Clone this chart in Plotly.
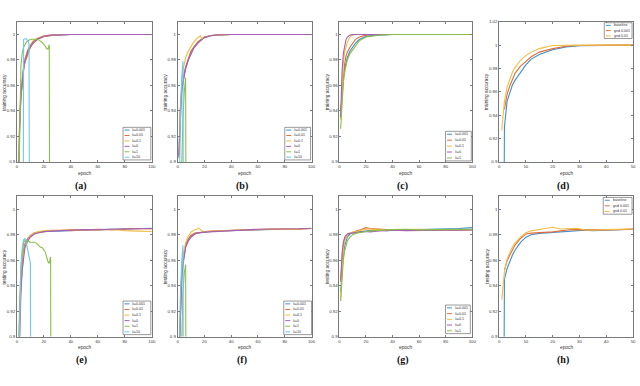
import plotly.graph_objects as go

# legend labels
lam_labels = ["λ=0.001", "λ=0.01", "λ=0.1", "λ=0", "λ=1", "λ=10"]
grid_labels = ["baseline", "grid 0.001", "grid 0.01"]

#colors (matlab default order, a bit lighter)
lam_colors = ["#3d8fd0", "#e0703a", "#f0bd45", "#a560b5", "#8cbf4a", "#6cc8ef"]
grid_colors = ["#3d8fd0", "#e0703a", "#f0bd45"]

########## (a) training ##########
ep_a = [1, 2, 3, 4, 5, 6, 8, 10, 12, 15, 20, 25, 30, 40, 60, 80, 100]
a_blue = [0.86, 0.928, 0.952, 0.965, 0.973, 0.979, 0.986, 0.990, 0.993, 0.996, 0.9985, 0.9993, 0.9997, 1.0, 1.0, 1.0, 1.0]
a_orange = [0.86, 0.925, 0.950, 0.964, 0.972, 0.978, 0.985, 0.990, 0.993, 0.996, 0.9985, 0.9993, 0.9997, 1.0, 1.0, 1.0, 1.0]
a_yellow = [0.87, 0.935, 0.956, 0.968, 0.975, 0.981, 0.988, 0.992, 0.995, 0.997, 0.999, 0.9995, 1.0, 1.0, 1.0, 1.0, 1.0]
a_purple = [0.86, 0.930, 0.953, 0.966, 0.974, 0.980, 0.987, 0.991, 0.994, 0.9965, 0.9988, 0.9995, 0.9998, 1.0, 1.0, 1.0, 1.0]
ep_a_green = [1, 2, 3, 4, 5, 7, 9, 11, 13, 15, 17, 19, 21, 22, 23, 24, 25]
a_green = [0.85, 0.93, 0.975, 0.986, 0.99, 0.994, 0.9957, 0.9963, 0.9965, 0.9962, 0.9952, 0.9935, 0.991, 0.989, 0.9885, 0.992, 0.5]
ep_a_cyan = [4, 5, 6, 7, 8, 9, 10]
a_cyan = [0.5, 0.996, 0.9966, 0.9966, 0.995, 0.993, 0.5]

########## (b) training ##########
ep_b = [1, 2, 3, 4, 5, 6, 8, 10, 12, 15, 20, 25, 30, 40, 60, 80, 100]
b_blue = [0.905, 0.94, 0.955, 0.963, 0.969, 0.974, 0.981, 0.986, 0.99, 0.994, 0.998, 0.9992, 0.9997, 1.0, 1.0, 1.0, 1.0]
b_orange = [0.905, 0.942, 0.956, 0.964, 0.970, 0.975, 0.982, 0.987, 0.99, 0.994, 0.998, 0.9992, 0.9997, 1.0, 1.0, 1.0, 1.0]
b_purple = [0.903, 0.938, 0.954, 0.962, 0.968, 0.973, 0.980, 0.985, 0.989, 0.993, 0.9975, 0.999, 0.9996, 1.0, 1.0, 1.0, 1.0]
ep_b_yellow = [1, 2, 3, 4, 5, 6, 8, 10, 12, 14, 16, 17, 18, 20, 25, 30, 40, 60, 80, 100]
b_yellow = [0.91, 0.945, 0.962, 0.972, 0.978, 0.982, 0.987, 0.991, 0.994, 0.9965, 0.998, 0.999, 0.9965, 0.9975, 0.999, 0.9995, 1.0, 1.0, 1.0, 1.0]
ep_b_green = [2, 3, 4, 5, 6, 7]
b_green = [0.85, 0.9, 0.935, 0.955, 0.966, 0.5]
ep_b_cyan = [1, 2, 3, 4, 5]
b_cyan = [0.85, 0.93, 0.965, 0.979, 0.5]

########## (c) training ##########
ep_c = [1, 2, 3, 4, 5, 6, 8, 10, 12, 15, 20, 25, 30, 40, 100]
c_blue = [0.935, 0.952, 0.965, 0.973, 0.978, 0.982, 0.987, 0.99, 0.993, 0.996, 0.9985, 0.9993, 0.9997, 1.0, 1.0]
c_orange = [0.94, 0.955, 0.968, 0.977, 0.983, 0.986, 0.990, 0.993, 0.996, 0.998, 0.9995, 1.0, 1.0, 1.0, 1.0]
c_yellow = [0.933, 0.962, 0.978, 0.986, 0.991, 0.994, 0.998, 0.9995, 1.0, 1.0, 1.0, 1.0, 1.0, 1.0, 1.0]
c_purple = [0.935, 0.97, 0.985, 0.992, 0.996, 0.998, 0.9995, 1.0, 1.0, 1.0, 1.0, 1.0, 1.0, 1.0, 1.0]
c_green = [0.926, 0.948, 0.962, 0.97, 0.976, 0.980, 0.985, 0.988, 0.991, 0.995, 0.998, 0.999, 0.9995, 1.0, 1.0]

########## (d) training, grid ##########
ep_d = [1, 2, 3, 4, 5, 6, 8, 10, 12, 15, 20, 25, 30, 40, 50]
d_base = [0.5, 0.93, 0.952, 0.96, 0.966, 0.97, 0.977, 0.983, 0.988, 0.992, 0.996, 0.9985, 0.9994, 1.0, 1.0]
d_g001 = [None, 0.945, 0.958, 0.965, 0.971, 0.976, 0.982, 0.986, 0.99, 0.994, 0.997, 0.999, 0.9997, 1.0, 1.0]
ep_d_g01 = [1, 2, 3, 4, 5, 6, 8, 10, 12, 15, 18, 20, 30, 40, 50]
d_g01 = [0.927, 0.952, 0.964, 0.971, 0.977, 0.981, 0.987, 0.991, 0.994, 0.997, 0.999, 0.9997, 1.0, 1.0, 1.0]

########## (e) testing ##########
ep_e = [1, 2, 3, 4, 5, 6, 8, 10, 13, 16, 20, 25, 30, 40, 50, 60, 70, 80, 90, 100]
e_blue = [0.85, 0.915, 0.94, 0.958, 0.967, 0.972, 0.977, 0.979, 0.981, 0.982, 0.9825, 0.983, 0.9828, 0.9835, 0.9838, 0.984, 0.9842, 0.9845, 0.9843, 0.985]
e_orange = [0.85, 0.918, 0.942, 0.96, 0.968, 0.973, 0.977, 0.9795, 0.9815, 0.982, 0.9822, 0.9832, 0.9835, 0.9832, 0.9838, 0.9842, 0.9838, 0.9845, 0.9848, 0.9845]
e_yellow = [0.85, 0.912, 0.938, 0.955, 0.965, 0.971, 0.976, 0.9795, 0.981, 0.9825, 0.983, 0.9835, 0.9832, 0.984, 0.9838, 0.9835, 0.9842, 0.9832, 0.9828, 0.9825]
e_purple = [0.85, 0.905, 0.935, 0.953, 0.963, 0.97, 0.975, 0.978, 0.9805, 0.9815, 0.9825, 0.9828, 0.9832, 0.9836, 0.984, 0.9838, 0.9843, 0.9842, 0.9846, 0.9848]
ep_e_green = [1, 2, 3, 4, 5, 6, 7, 8, 10, 13, 15, 17, 19, 21, 23, 24, 25, 26]
e_green = [0.85, 0.925, 0.955, 0.968, 0.974, 0.9755, 0.9755, 0.975, 0.974, 0.974, 0.973, 0.9705, 0.9695, 0.9665, 0.959, 0.9575, 0.9625, 0.5]
ep_e_cyan = [1, 2, 3, 4, 5, 6, 7, 8, 9, 10, 11]
e_cyan = [0.85, 0.92, 0.955, 0.97, 0.976, 0.977, 0.974, 0.968, 0.962, 0.958, 0.5]

########## (f) testing ##########
ep_f = [1, 2, 3, 4, 5, 6, 8, 10, 13, 16, 20, 25, 30, 40, 50, 60, 70, 80, 90, 100]
f_blue = [0.88, 0.92, 0.945, 0.958, 0.966, 0.971, 0.976, 0.979, 0.981, 0.9815, 0.982, 0.9825, 0.983, 0.9832, 0.9835, 0.9838, 0.984, 0.9842, 0.9845, 0.9848]
f_orange = [0.885, 0.925, 0.948, 0.96, 0.967, 0.972, 0.977, 0.9795, 0.9812, 0.9818, 0.9822, 0.9828, 0.983, 0.9835, 0.9838, 0.984, 0.9842, 0.9845, 0.9843, 0.9848]
f_purple = [0.88, 0.918, 0.943, 0.956, 0.965, 0.97, 0.975, 0.978, 0.9805, 0.9815, 0.982, 0.9823, 0.9828, 0.983, 0.9836, 0.9842, 0.9845, 0.9843, 0.9846, 0.985]
ep_f_yellow = [1, 2, 3, 4, 5, 6, 8, 10, 12, 14, 16, 18, 20, 25, 30, 40, 50, 60, 70, 80, 90, 100]
f_yellow = [0.885, 0.925, 0.95, 0.962, 0.969, 0.974, 0.979, 0.982, 0.9835, 0.9845, 0.985, 0.983, 0.9825, 0.9828, 0.983, 0.9832, 0.9836, 0.984, 0.9846, 0.9842, 0.9845, 0.9848]
ep_f_green = [2, 3, 4, 5, 6, 7]
f_green = [0.85, 0.9, 0.935, 0.95, 0.9566, 0.5]
ep_f_cyan = [1, 2, 3, 4, 5]
f_cyan = [0.86, 0.93, 0.958, 0.9716, 0.5]

########## (g) testing ##########
ep_g = [1, 2, 3, 4, 5, 6, 8, 10, 13, 16, 20, 23, 26, 30, 35, 40, 50, 60, 70, 80, 90, 100]
g_blue = [0.935, 0.953, 0.964, 0.971, 0.975, 0.978, 0.9805, 0.9815, 0.982, 0.9825, 0.983, 0.9832, 0.9835, 0.9838, 0.9832, 0.9835, 0.9838, 0.984, 0.9842, 0.9845, 0.9848, 0.9855]
g_orange = [0.945, 0.962, 0.971, 0.977, 0.979, 0.980, 0.981, 0.982, 0.983, 0.9838, 0.9855, 0.9848, 0.9845, 0.9842, 0.984, 0.9838, 0.9835, 0.9838, 0.984, 0.9838, 0.9836, 0.984]
g_yellow = [0.93, 0.955, 0.968, 0.975, 0.978, 0.98, 0.9815, 0.982, 0.9825, 0.9835, 0.9842, 0.9845, 0.984, 0.9845, 0.9835, 0.9838, 0.984, 0.9842, 0.9838, 0.984, 0.9836, 0.9838]
g_purple = [0.943, 0.965, 0.974, 0.978, 0.9795, 0.9805, 0.981, 0.9812, 0.9815, 0.982, 0.9825, 0.9822, 0.9828, 0.983, 0.9832, 0.9835, 0.9832, 0.9835, 0.9838, 0.9836, 0.9835, 0.9838]
g_green = [0.928, 0.948, 0.96, 0.967, 0.972, 0.975, 0.978, 0.98, 0.9812, 0.982, 0.9825, 0.983, 0.9832, 0.9835, 0.9838, 0.984, 0.9842, 0.9838, 0.984, 0.9842, 0.9845, 0.9842]

########## (h) testing, grid ##########
ep_h = [1, 2, 3, 4, 5, 6, 8, 10, 12, 15, 18, 20, 23, 26, 29, 32, 35, 40, 45, 50]
h_base = [0.5, 0.945, 0.9535, 0.959, 0.964, 0.968, 0.974, 0.978, 0.98, 0.981, 0.9815, 0.982, 0.9825, 0.983, 0.9832, 0.9835, 0.9832, 0.9835, 0.9838, 0.9842]
h_g001 = [None, 0.952, 0.9595, 0.9638, 0.968, 0.972, 0.977, 0.9806, 0.9812, 0.9815, 0.9818, 0.9822, 0.983, 0.9838, 0.984, 0.9838, 0.9836, 0.9838, 0.984, 0.9845]
h_g01 = [0.929, 0.951, 0.961, 0.9664, 0.9705, 0.9735, 0.978, 0.9815, 0.983, 0.984, 0.985, 0.9858, 0.9845, 0.985, 0.985, 0.9838, 0.9835, 0.984, 0.9842, 0.9845]


W, H = 640, 386
def px(x):
    return x / W
def py(y):
    return 1 - y / H

col_x = [(16, 152), (178, 313), (341, 475), (502, 637)]
row_y = [(20, 162), (197, 339)]

fig = go.Figure()
shapes = []
annos = []
TXT = "#333"

def label(x, y, text, size, family="Liberation Sans", color=TXT, angle=0, xanchor="center"):
    annos.append(dict(x=px(x), y=py(y), xref="paper", yref="paper", text=text,
                      textangle=angle, showarrow=False, xanchor=xanchor, yanchor="middle",
                      font=dict(family=family, size=size, color=color)))

def add_panel(k, series, xmax, ymax, ytitle, letter, legend_box, leg_labels, leg_colors):
    col = (k - 1) % 4
    row = (k - 1) // 4
    x0, x1 = col_x[col]
    y0, y1 = row_y[row]
    for ep, vals, c in series:
        fig.add_trace(go.Scatter(x=ep, y=vals, mode="lines", line=dict(color=c, width=1.1),
                                 showlegend=False, xaxis="x%d" % k, yaxis="y%d" % k,
                                 connectgaps=False, hoverinfo="skip"))
    ax = dict(showline=True, linecolor="#7a7a7a", linewidth=0.8, mirror="ticks",
              ticks="inside", ticklen=2, tickcolor="#7a7a7a", tickwidth=0.6,
              showgrid=False, zeroline=False,
              tickfont=dict(family="Liberation Sans", size=4.3, color=TXT))
    fig.layout["xaxis%d" % k] = dict(ax, domain=[px(x0), px(x1)], anchor="y%d" % k,
                                      range=[0, xmax], dtick=xmax / 5, tick0=0)
    fig.layout["yaxis%d" % k] = dict(ax, domain=[py(y1), py(y0)], anchor="x%d" % k,
                                      range=[0.9, ymax], dtick=0.02, tick0=0.9)
    # axis titles + panel letter
    label(x0 - 12, (y0 + y1) / 2, ytitle, 4.8, angle=-90)
    label((x0 + x1) / 2, y1 + 11.5, "epoch", 4.8)
    label((x0 + x1) / 2 - 3, y1 + 24, "<b>(%s)</b>" % letter, 10, family="Liberation Serif", color="#111")
    # small matlab style legend box
    lx0, ly0, lx1, ly1 = legend_box
    shapes.append(dict(type="rect", xref="paper", yref="paper", x0=px(lx0), x1=px(lx1),
                       y0=py(ly1), y1=py(ly0), fillcolor="white",
                       line=dict(color="#555", width=0.6), layer="above"))
    step = (ly1 - ly0) / len(leg_labels)
    for i, (lab, c) in enumerate(zip(leg_labels, leg_colors)):
        yy = ly0 + step * (i + 0.5)
        shapes.append(dict(type="line", xref="paper", yref="paper", x0=px(lx0 + 1.5), x1=px(lx0 + 6.5),
                           y0=py(yy), y1=py(yy), line=dict(color=c, width=1), layer="above"))
        label(lx0 + 7.5, yy, lab, 3.6, color="#333", xanchor="left")


C = lam_colors
G = grid_colors
add_panel(1, [(ep_a, a_blue, C[0]), (ep_a, a_orange, C[1]), (ep_a, a_yellow, C[2]), (ep_a, a_purple, C[3]),
              (ep_a_green, a_green, C[4]), (ep_a_cyan, a_cyan, C[5])],
          100, 1.01, "training accuracy", "a", (123, 127, 151, 160), lam_labels, C)
add_panel(2, [(ep_b, b_blue, C[0]), (ep_b, b_orange, C[1]), (ep_b_yellow, b_yellow, C[2]), (ep_b, b_purple, C[3]),
              (ep_b_green, b_green, C[4]), (ep_b_cyan, b_cyan, C[5])],
          100, 1.01, "training accuracy", "b", (286, 127, 312, 160), lam_labels, C)
add_panel(3, [(ep_c, c_blue, C[0]), (ep_c, c_orange, C[1]), (ep_c, c_yellow, C[2]), (ep_c, c_purple, C[3]),
              (ep_c, c_green, C[4])],
          100, 1.01, "training accuracy", "c", (448, 131, 474, 161), lam_labels[:5], C[:5])
add_panel(4, [(ep_d, d_base, G[0]), (ep_d, d_g001, G[1]), (ep_d_g01, d_g01, G[2])],
          50, 1.02, "training accuracy", "d", (608, 21, 636, 37), grid_labels, G)
add_panel(5, [(ep_e, e_blue, C[0]), (ep_e, e_orange, C[1]), (ep_e, e_yellow, C[2]), (ep_e, e_purple, C[3]),
              (ep_e_green, e_green, C[4]), (ep_e_cyan, e_cyan, C[5])],
          100, 1.01, "testing accuracy", "e", (123, 303, 151, 337), lam_labels, C)
add_panel(6, [(ep_f, f_blue, C[0]), (ep_f, f_orange, C[1]), (ep_f_yellow, f_yellow, C[2]), (ep_f, f_purple, C[3]),
              (ep_f_green, f_green, C[4]), (ep_f_cyan, f_cyan, C[5])],
          100, 1.01, "testing accuracy", "f", (285, 303, 313, 337), lam_labels, C)
add_panel(7, [(ep_g, g_blue, C[0]), (ep_g, g_orange, C[1]), (ep_g, g_yellow, C[2]), (ep_g, g_purple, C[3]),
              (ep_g, g_green, C[4])],
          100, 1.01, "testing accuracy", "g", (448, 307, 473, 336), lam_labels[:5], C[:5])
add_panel(8, [(ep_h, h_base, G[0]), (ep_h, h_g001, G[1]), (ep_h, h_g01, G[2])],
          50, 1.01, "testing accuracy", "h", (607, 198, 636, 215), grid_labels, G)

fig.update_layout(width=W, height=H, margin=dict(l=0, r=0, t=0, b=0),
                  paper_bgcolor="white", plot_bgcolor="white",
                  shapes=shapes, annotations=annos, showlegend=False)

# page body has a default 8px margin, drop it so the figure sits at 0,0
fig.write_html("out.html", config={"displayModeBar": False},
               post_script="document.body.style.margin='0';")
